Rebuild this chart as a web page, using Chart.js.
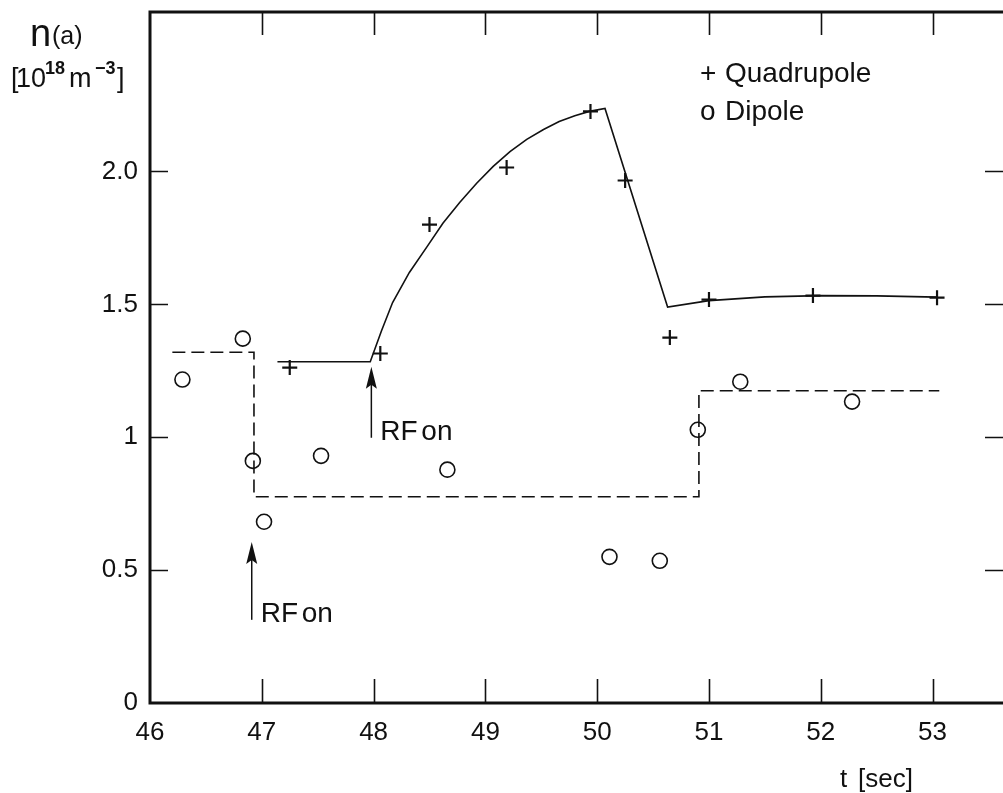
<!DOCTYPE html>
<html>
<head>
<meta charset="utf-8">
<script src="https://cdn.jsdelivr.net/npm/chart.js@4.4.1/dist/chart.umd.min.js"></script>
<style>
  html, body { margin: 0; padding: 0; background: #fff; overflow: hidden; }
  #wrap { width: 1003px; height: 793px; }
</style>
</head>
<body>
<div id="wrap"><canvas id="myChart" width="1003" height="793"></canvas></div>
<script>
// tick values
var xTicks = [46, 47, 48, 49, 50, 51, 52, 53];
var yTicks = [0, 0.5, 1, 1.5, 2.0];
var yTickLabels = ['0', '0.5', '1', '1.5', '2.0'];

// Quadrupole measurements (+)
var quadT = [47.25, 48.06, 48.50, 49.19, 49.94, 50.25, 50.65, 51.00, 51.93, 53.04];
var quadN = [1.262, 1.315, 1.800, 2.015, 2.226, 1.966, 1.375, 1.518, 1.533, 1.525];

// Dipole measurements (o)
var dipT = [46.29, 46.83, 46.92, 47.02, 47.53, 48.66, 50.11, 50.56, 50.90, 51.28, 52.28];
var dipN = [1.217, 1.371, 0.911, 0.682, 0.930, 0.878, 0.550, 0.535, 1.028, 1.209, 1.134];

// solid curve through the quadrupole data
var quadFitT = [47.14, 47.97, 48.07, 48.17, 48.32, 48.48, 48.62, 48.77, 48.92, 49.07, 49.22, 49.37, 49.52, 49.66, 49.80, 49.93, 50.07, 50.63, 51.00, 51.50, 52.00, 52.50, 53.04];
var quadFitN = [1.284, 1.284, 1.400, 1.507, 1.620, 1.718, 1.805, 1.883, 1.955, 2.019, 2.075, 2.121, 2.158, 2.188, 2.210, 2.226, 2.237, 1.490, 1.514, 1.528, 1.533, 1.532, 1.527];

// dashed step line through the dipole data
var dipFitT = [46.20, 46.93, 46.93, 50.91, 50.91, 53.06];
var dipFitN = [1.320, 1.320, 0.776, 0.776, 1.175, 1.175];

// "RF on" arrows
var rfT = [46.91, 47.98];
var rfTop = [0.606, 1.265];
var rfBottom = [0.313, 0.998];

var ink = '#111';
var fontFam = '"Liberation Sans", Arial, Helvetica, sans-serif';

function toPoints(xs, ys) {
    var pts = [];
    for (var i = 0; i < xs.length; i++) {
        pts.push({ x: xs[i], y: ys[i] });
    }
    return pts;
}

var framePlugin = {
    id: 'frame',
    afterDatasetsDraw: function(chart) {
        var ctx = chart.ctx;
        var area = chart.chartArea;
        var xs = chart.scales.x;
        var ys = chart.scales.y;

        ctx.save();
        ctx.strokeStyle = ink;
        ctx.lineCap = 'square';

        // frame: left, bottom, top
        ctx.lineWidth = 3;
        ctx.beginPath();
        ctx.moveTo(area.left, area.top);
        ctx.lineTo(area.left, area.bottom);
        ctx.lineTo(area.right, area.bottom);
        ctx.moveTo(area.left, area.top);
        ctx.lineTo(area.right, area.top);
        ctx.stroke();

        // inward ticks
        ctx.lineWidth = 1.6;
        ctx.lineCap = 'butt';
        ctx.beginPath();
        xTicks.forEach(function(v) {
            if (v === xTicks[0]) return;
            var px = Math.round(xs.getPixelForValue(v)) + 0.5;
            ctx.moveTo(px, area.bottom);
            ctx.lineTo(px, area.bottom - 24);
            ctx.moveTo(px, area.top);
            ctx.lineTo(px, area.top + 23);
        });
        yTicks.forEach(function(v) {
            if (v === 0) return;
            var py = Math.round(ys.getPixelForValue(v)) + 0.5;
            ctx.moveTo(area.left, py);
            ctx.lineTo(area.left + 18, py);
            ctx.moveTo(area.right, py);
            ctx.lineTo(area.right - 18, py);
        });
        ctx.stroke();

        // RF on arrows
        ctx.fillStyle = ink;
        ctx.lineWidth = 1.5;
        for (var i = 0; i < rfT.length; i++) {
            var ax = xs.getPixelForValue(rfT[i]);
            var at = ys.getPixelForValue(rfTop[i]);
            var ab = ys.getPixelForValue(rfBottom[i]);
            ctx.beginPath();
            ctx.moveTo(ax, ab);
            ctx.lineTo(ax, at + 10);
            ctx.stroke();
            ctx.beginPath();
            ctx.moveTo(ax, at);
            ctx.lineTo(ax - 5.5, at + 22);
            ctx.lineTo(ax, at + 18);
            ctx.lineTo(ax + 5.5, at + 22);
            ctx.closePath();
            ctx.fill();

            ctx.font = '28px ' + fontFam;
            ctx.textBaseline = 'alphabetic';
            ctx.textAlign = 'left';
            ctx.fillText('RF', ax + 9, ab + 2);
            ctx.fillText('on', ax + 50, ab + 2);
        }

        // legend
        ctx.font = '28px ' + fontFam;
        ctx.textAlign = 'left';
        ctx.fillText('+', 700, 82);
        ctx.fillText('Quadrupole', 725, 82);
        ctx.fillText('o', 700, 120);
        ctx.fillText('Dipole', 725, 120);

        // x axis title
        ctx.font = '26px ' + fontFam;
        ctx.fillText('t', 840, 787);
        ctx.fillText('[sec]', 858, 787);

        // y axis title
        ctx.font = '38px ' + fontFam;
        ctx.fillText('n', 30, 46);
        ctx.font = '25px ' + fontFam;
        ctx.fillText('(a)', 52, 44);
        ctx.font = '27px ' + fontFam;
        ctx.fillText('[', 11, 87);
        ctx.fillText('10', 16, 87);
        ctx.fillText('m', 69, 87);
        ctx.fillText(']', 117, 87);
        ctx.font = 'bold 18px ' + fontFam;
        ctx.fillText('18', 45, 74);
        ctx.fillText('\u22123', 95, 74);

        ctx.restore();
    }
};

var ctx = document.getElementById('myChart').getContext('2d');
var myChart = new Chart(ctx, {
    type: 'scatter',
    data: {
        datasets: [{
            label: 'Quadrupole fit',
            data: toPoints(quadFitT, quadFitN),
            showLine: true,
            borderColor: ink,
            borderWidth: 1.6,
            pointRadius: 0,
            tension: 0
        }, {
            label: 'Dipole fit',
            data: toPoints(dipFitT, dipFitN),
            showLine: true,
            borderColor: ink,
            borderWidth: 1.6,
            borderDash: [13, 6],
            pointRadius: 0,
            tension: 0
        }, {
            label: 'Quadrupole',
            data: toPoints(quadT, quadN),
            pointStyle: 'cross',
            pointRadius: 7.5,
            pointBorderWidth: 2.2,
            borderColor: ink,
            backgroundColor: ink
        }, {
            label: 'Dipole',
            data: toPoints(dipT, dipN),
            pointStyle: 'circle',
            pointRadius: 7.5,
            pointBorderWidth: 1.6,
            borderColor: ink,
            backgroundColor: '#fff'
        }]
    },
    options: {
        responsive: false,
        animation: false,
        layout: {
            autoPadding: false,
            padding: { top: 12, right: 0, bottom: 0, left: 0 }
        },
        plugins: {
            legend: { display: false },
            tooltip: { enabled: false }
        },
        scales: {
            x: {
                type: 'linear',
                min: 46,
                max: 53.63,
                afterBuildTicks: function(scale) {
                    scale.ticks = xTicks.map(function(v) { return { value: v }; });
                },
                afterFit: function(scale) {
                    scale.height = 90;
                    scale.paddingLeft = 0;
                    scale.paddingRight = 0;
                },
                grid: { display: false, drawTicks: false },
                border: { display: false },
                ticks: {
                    padding: 14,
                    color: ink,
                    maxRotation: 0,
                    autoSkip: false,
                    font: { family: fontFam, size: 26 },
                    callback: function(v) { return String(v); }
                }
            },
            y: {
                type: 'linear',
                min: 0,
                max: 2.6,
                afterBuildTicks: function(scale) {
                    scale.ticks = yTicks.map(function(v) { return { value: v }; });
                },
                afterFit: function(scale) {
                    scale.width = 150;
                    scale.paddingTop = 0;
                    scale.paddingBottom = 0;
                },
                grid: { display: false, drawTicks: false },
                border: { display: false },
                ticks: {
                    padding: 12,
                    color: ink,
                    autoSkip: false,
                    font: { family: fontFam, size: 26 },
                    callback: function(v) {
                        var idx = yTicks.indexOf(v);
                        return idx >= 0 ? yTickLabels[idx] : '';
                    }
                }
            }
        }
    },
    plugins: [framePlugin]
});
</script>
</body>
</html>
